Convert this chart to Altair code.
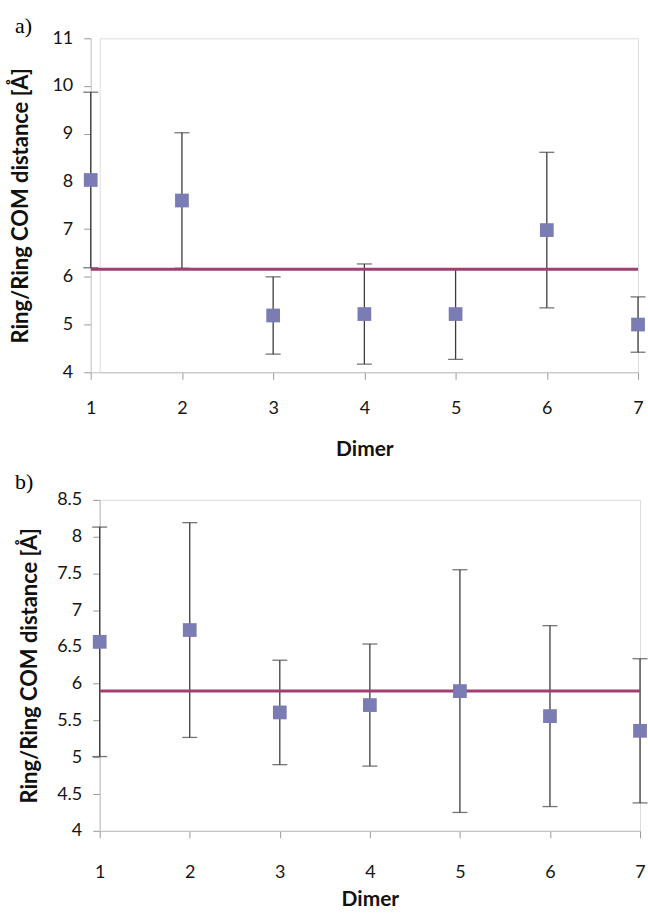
import altair as alt
import pandas as pd

dimers = [1, 2, 3, 4, 5, 6, 7]

a_mean = [8.03, 7.60, 5.19, 5.22, 5.22, 6.98, 5.00]
a_err = [1.84, 1.42, 0.81, 1.05, 0.95, 1.63, 0.58]
a_avg = 6.16
a_ticks = [4, 5, 6, 7, 8, 9, 10, 11]

b_mean = [6.57, 6.73, 5.61, 5.71, 5.90, 5.56, 5.36]
b_err = [1.56, 1.46, 0.71, 0.83, 1.65, 1.23, 0.98]
b_avg = 5.90
b_ticks = [4, 4.5, 5, 5.5, 6, 6.5, 7, 7.5, 8, 8.5]

y_title = "Ring/Ring COM distance [Å]"
x_title = "Dimer"

SQUARE = "#7A7CB3"
MEANLINE = "#A23F70"
ERR = "#3c3c3c"
FONT = "Lato"


def panel(mean, err, avg, ticks, label, label_y, xrange, w, h, yoff,
          xlab_pad, xtitle_pad, ylab_pad, ytitle_pad):
    df = pd.DataFrame({
        "dimer": dimers,
        "mean": mean,
        "lo": [m - e for m, e in zip(mean, err)],
        "hi": [m + e for m, e in zip(mean, err)],
    })
    xscale = alt.Scale(domain=[1, 7], nice=False, zero=False, range=xrange)
    xaxis = alt.Axis(values=dimers, format="d", title=x_title, grid=False,
                     domainColor="#BFBFBF", tickColor="#9a9a9a", tickSize=7,
                     labelFont=FONT, labelFontSize=18, labelColor="#151515",
                     labelPadding=xlab_pad, labelFlush=False, labelOverlap=False,
                     titleFont=FONT, titleFontSize=21, titleFontWeight="bold",
                     titleColor="#111", titlePadding=xtitle_pad)
    yscale = alt.Scale(domain=[ticks[0], ticks[-1]], nice=False, zero=False)
    yaxis = alt.Axis(values=ticks, format="~g", title=y_title, grid=False,
                     offset=yoff, tickCount=len(ticks),
                     domainColor="#BFBFBF", tickColor="#9a9a9a", tickSize=7,
                     labelFont=FONT, labelFontSize=18, labelColor="#151515",
                     labelPadding=ylab_pad, labelFlush=False, labelOverlap=False,
                     titleFont=FONT, titleFontSize=22, titleFontWeight="bold",
                     titleColor="#111", titlePadding=ytitle_pad)

    def X():
        return alt.X("dimer:Q", scale=xscale, axis=xaxis)

    def Y(field):
        return alt.Y(field, scale=yscale, axis=yaxis)

    base = alt.Chart(df)
    bars = base.mark_rule(color=ERR, strokeWidth=1.3).encode(
        x=X(), y=Y("lo:Q"), y2="hi:Q")
    cap_hi = base.mark_tick(color=ERR, orient="horizontal", size=15,
                            thickness=1.3).encode(x=X(), y=Y("hi:Q"))
    cap_lo = base.mark_tick(color=ERR, orient="horizontal", size=15,
                            thickness=1.3).encode(x=X(), y=Y("lo:Q"))
    line = alt.Chart(pd.DataFrame({"avg": [avg]})).mark_rule(
        color=MEANLINE, strokeWidth=3).encode(
        x=alt.datum(1), x2=alt.datum(7), y=Y("avg:Q"))
    pts = base.mark_square(size=190, color=SQUARE, opacity=1).encode(
        x=X(), y=Y("mean:Q"))
    lab = alt.Chart(pd.DataFrame({"t": [label]})).mark_text(
        font="Liberation Serif", fontSize=22, align="left", baseline="middle",
        color="#000").encode(text="t:N", x=alt.value(-85),
                             y=alt.value(label_y))
    return alt.layer(bars, cap_hi, cap_lo, line, pts, lab).properties(
        width=w, height=h)


pa = panel(a_mean, a_err, a_avg, a_ticks, "a)", -12, [-9, 540], 540, 335, 9,
           20, 21, 11, 20)
pb = panel(b_mean, b_err, b_avg, b_ticks, "b)", -18, [0, 542], 542, 332, 0,
           26, 7, 11, 15)

chart = alt.vconcat(pa, pb, spacing=10).properties(
    padding={"left": 8, "top": 13, "right": 0, "bottom": 0}
).configure_view(stroke=None).configure_axis(
    labelOverlap=False
).configure(background="white")

chart.save("out.html", embed_options={"renderer": "svg", "actions": False})
